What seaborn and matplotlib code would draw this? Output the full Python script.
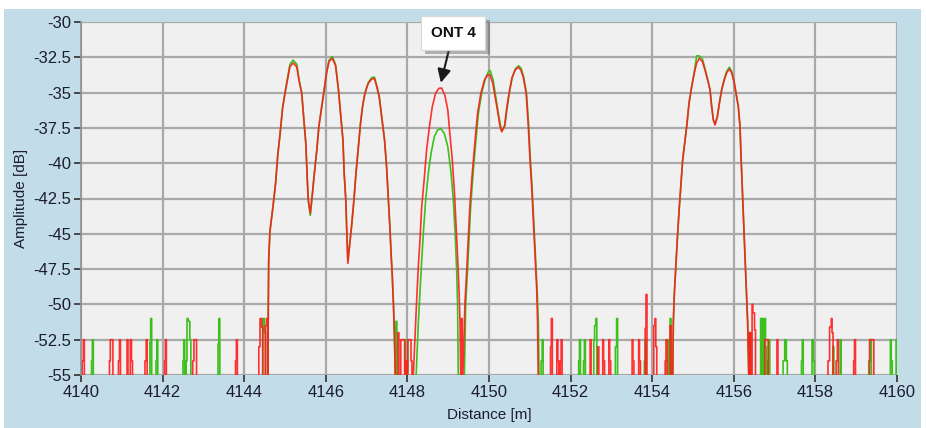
import numpy as np
import pandas as pd
import matplotlib
matplotlib.use("Agg")
import matplotlib.pyplot as plt
from matplotlib import patheffects
from matplotlib.patches import Rectangle
import seaborn as sns

# ---------------- data ----------------
x_ticks = [4140, 4142, 4144, 4146, 4148, 4150, 4152, 4154, 4156, 4158, 4160]
x_tick_labels = ["4140", "4142", "4144", "4146", "4148", "4150", "4152", "4154", "4156", "4158", "4160"]
y_ticks = [-30, -32.5, -35, -37.5, -40, -42.5, -45, -47.5, -50, -52.5, -55]
y_tick_labels = ["-30", "-32.5", "-35", "-37.5", "-40", "-42.5", "-45", "-47.5", "-50", "-52.5", "-55"]
floor_level = -56  # noise floor lies just below the visible range

# group 1 (three peaks 4144.6 - 4147.7)
g1_dist = [4144.58, 4144.59, 4144.60, 4144.63, 4144.71, 4144.77, 4144.82, 4144.88, 4144.94, 4145.00,
           4145.06, 4145.12, 4145.20, 4145.29, 4145.34, 4145.41, 4145.47, 4145.51, 4145.55, 4145.57,
           4145.62, 4145.67, 4145.72, 4145.78, 4145.83, 4145.90, 4145.96, 4146.02, 4146.08, 4146.16,
           4146.24, 4146.31, 4146.37, 4146.42, 4146.45, 4146.49, 4146.51, 4146.54, 4146.58, 4146.63,
           4146.69, 4146.74, 4146.80, 4146.85, 4146.90, 4146.96, 4147.04, 4147.12, 4147.19, 4147.25,
           4147.31, 4147.37, 4147.44, 4147.49, 4147.53, 4147.57, 4147.60, 4147.63, 4147.66, 4147.68,
           4147.71]
g1_red = [-56, -50.4, -46.9, -44.85, -42.96, -41.4, -39.5, -37.9, -36.1, -35.05,
          -34.1, -33.17, -32.9, -33.2, -34.1, -35.05, -37.2, -38.6, -41.4, -42.6,
          -43.55, -42.2, -40.7, -39.06, -37.4, -36.0, -34.8, -33.6, -32.8, -32.57,
          -33.1, -34.8, -36.7, -38.36, -40.7, -42.6, -44.5, -47.1, -45.9, -44.5,
          -42.6, -40.7, -38.83, -37.2, -36.0, -35.05, -34.34, -34.06, -33.98, -34.6,
          -35.3, -36.7, -38.36, -40.25, -42.37, -44.5, -46.4, -48.04, -50.16, -52.05,
          -56]
g1_green = [-56, -50.4, -46.9, -44.85, -42.96, -41.4, -39.5, -37.9, -36.1, -35.0,
            -34.0, -33.0, -32.7, -33.0, -34.0, -35.05, -37.2, -38.6, -41.4, -42.6,
            -43.7, -42.2, -40.7, -39.06, -37.4, -36.0, -34.8, -33.5, -32.7, -32.45,
            -33.0, -34.8, -36.7, -38.36, -40.7, -42.6, -44.5, -46.9, -45.9, -44.5,
            -42.6, -40.7, -38.83, -37.2, -36.0, -35.0, -34.3, -33.95, -33.9, -34.5,
            -35.3, -36.7, -38.36, -40.25, -42.37, -44.5, -46.4, -48.04, -50.16, -52.05,
            -56]

# ONT 4 peak
ont4_red_dist = [4148.13, 4148.186, 4148.227, 4148.268, 4148.309, 4148.35, 4148.41, 4148.47, 4148.54,
                 4148.61, 4148.69, 4148.77, 4148.84, 4148.92, 4148.99, 4149.04, 4149.10, 4149.15,
                 4149.19, 4149.23, 4149.265, 4149.29, 4149.31]
ont4_red = [-56, -52.3, -49.7, -47.3, -45.4, -43.1, -41.2, -39.06, -37.4,
            -36.0, -35.05, -34.7, -34.68, -35.2, -36.23, -37.9, -39.77, -41.9,
            -44.26, -46.6, -48.98, -51.3, -56]
ont4_green_dist = [4148.20, 4148.268, 4148.333, 4148.39, 4148.448, 4148.513, 4148.58, 4148.66, 4148.74,
                   4148.82, 4148.905, 4148.99, 4149.07, 4149.125, 4149.17, 4149.21, 4149.23, 4149.25]
ont4_green = [-56, -51.3, -47.8, -44.97, -42.6, -40.7, -39.3, -38.12, -37.65,
              -37.55, -37.9, -38.83, -40.7, -42.6, -44.97, -47.8, -50.1, -56]

# group 2 (two peaks 4149.4 - 4151.2)
g2_red_dist = [4149.35, 4149.41, 4149.45, 4149.49, 4149.53, 4149.59, 4149.66, 4149.72, 4149.80, 4149.89,
               4149.97, 4150.02, 4150.09, 4150.15, 4150.21, 4150.27, 4150.31, 4150.38, 4150.43, 4150.49,
               4150.56, 4150.64, 4150.72, 4150.78, 4150.84, 4150.91, 4150.96, 4151.00, 4151.05, 4151.09,
               4151.13, 4151.17, 4151.19, 4151.21]
g2_red = [-56, -49.9, -47.8, -45.4, -43.1, -40.7, -38.36, -36.47, -35.05, -34.1,
          -33.75, -33.75, -34.3, -35.3, -36.3, -37.4, -37.77, -37.4, -36.2, -35.05,
          -34.0, -33.4, -33.2, -33.4, -33.9, -35.05, -37.2, -39.5, -41.9, -44.26,
          -46.6, -48.98, -51.3, -56]
g2_green_dist = [4149.39, 4149.43, 4149.47, 4149.51, 4149.55, 4149.61, 4149.68, 4149.74, 4149.82, 4149.91,
                 4149.99, 4150.03, 4150.10, 4150.16, 4150.22, 4150.28, 4150.32, 4150.39, 4150.44, 4150.50,
                 4150.57, 4150.65, 4150.73, 4150.79, 4150.85, 4150.92, 4150.97, 4151.01, 4151.06, 4151.10,
                 4151.14, 4151.18, 4151.21, 4151.23]
g2_green = [-56, -49.9, -47.8, -45.4, -43.1, -40.7, -38.36, -36.47, -35.05, -34.0,
            -33.5, -33.45, -34.1, -35.2, -36.3, -37.3, -37.7, -37.3, -36.2, -35.0,
            -33.9, -33.3, -33.1, -33.3, -33.9, -35.05, -37.2, -39.5, -41.9, -44.26,
            -46.6, -48.98, -51.3, -56]

# group 3 (two peaks 4154.5 - 4156.4)
g3_dist = [4154.50, 4154.518, 4154.543, 4154.584, 4154.624, 4154.665, 4154.706, 4154.747, 4154.804, 4154.853,
           4154.902, 4154.968, 4155.033, 4155.09, 4155.155, 4155.229, 4155.294, 4155.36, 4155.417, 4155.458,
           4155.499, 4155.54, 4155.597, 4155.646, 4155.703, 4155.768, 4155.825, 4155.891, 4155.948, 4156.005,
           4156.054, 4156.111, 4156.152, 4156.177, 4156.209, 4156.242, 4156.275, 4156.307, 4156.34, 4156.373]
g3_red = [-56, -51.3, -49.2, -47.1, -44.97, -43.1, -41.4, -39.77, -38.36, -37.2,
          -35.76, -34.58, -33.6, -32.9, -32.57, -32.8, -33.4, -34.1, -34.8, -36.0,
          -36.94, -37.3, -36.7, -35.76, -34.8, -34.1, -33.6, -33.33, -33.6, -34.2,
          -35.05, -36.0, -37.4, -39.5, -41.9, -44.26, -46.6, -48.98, -51.3, -56]
g3_green = [-56, -51.3, -49.2, -47.1, -44.97, -43.1, -41.4, -39.77, -38.36, -37.2,
            -35.76, -34.58, -33.5, -32.4, -32.4, -32.6, -33.3, -34.1, -34.8, -36.0,
            -36.94, -37.2, -36.7, -35.76, -34.8, -34.0, -33.5, -33.2, -33.5, -34.2,
            -35.05, -36.0, -37.4, -39.5, -41.9, -44.26, -46.6, -48.98, -51.3, -56]

# noise-floor spikes
red_spike_x = [4140.04, 4140.07, 4140.71, 4140.73, 4140.77, 4140.93, 4140.955, 4141.14, 4141.22, 4141.25,
               4141.58, 4141.61, 4142.06, 4142.08, 4142.75, 4142.78, 4142.82, 4143.80, 4143.82,
               4144.37, 4144.40, 4144.44, 4144.53, 4144.56,
               4147.78, 4147.85, 4147.88, 4147.92, 4147.97, 4148.02, 4148.06, 4148.10,
               4149.33,
               4151.52, 4151.54, 4151.675, 4151.70, 4151.76, 4151.78, 4152.49, 4152.68, 4152.80, 4152.82,
               4152.95, 4152.97, 4153.52, 4153.54, 4153.68, 4153.70, 4153.84, 4153.86, 4154.05, 4154.08,
               4154.10, 4154.33, 4154.35, 4154.45,
               4156.40, 4156.46, 4156.48, 4156.52, 4156.77, 4156.80, 4156.83, 4157.07, 4158.32, 4158.36,
               4158.40, 4158.42, 4158.52, 4158.55, 4158.95, 4158.97, 4159.34, 4159.38, 4159.42]
red_spike_y = [-54, -52.5, -54, -52.5, -52.5, -54, -52.5, -52.5, -52.5, -54,
               -54, -52.5, -54, -52.5, -54, -52.5, -52.5, -54, -52.5,
               -53, -51, -51.6, -51.5, -51,
               -52, -52.5, -52.5, -52.5, -54, -52.5, -52.5, -54,
               -51,
               -53, -51, -52.5, -54, -54, -52.5, -52.5, -53, -52.5, -54,
               -52.5, -54, -52.5, -54, -52.5, -54, -51.7, -49.3, -51.5, -51,
               -53, -54, -52.5, -51.5,
               -52, -50, -50.6, -51.8, -52.5, -52.5, -52.5, -52.5, -54, -51.6,
               -51, -52, -54, -52.5, -54, -52.5, -52.5, -52.5, -52.5]
green_spike_x = [4140.27, 4140.29, 4141.70, 4141.72, 4141.85, 4141.87, 4142.51, 4142.53, 4142.59, 4142.61,
                 4142.64, 4142.68, 4143.37, 4143.39, 4144.47, 4144.51,
                 4147.73, 4147.96, 4148.00,
                 4151.29, 4151.315, 4152.21, 4152.23, 4152.33, 4152.35, 4152.58, 4152.60, 4152.63,
                 4153.11, 4153.14, 4153.82, 4153.84, 4154.39, 4154.45,
                 4156.40, 4156.67, 4156.72, 4156.77, 4156.79, 4156.85, 4156.87, 4157.22, 4157.26, 4157.30,
                 4157.67, 4157.69, 4157.93, 4157.96, 4158.44, 4158.62, 4159.32, 4159.36, 4159.85, 4159.87,
                 4159.99]
green_spike_y = [-54, -52.5, -52.7, -51, -54, -52.5, -54, -52.5, -54, -51,
                 -51.2, -52.5, -52.8, -51, -51, -52,
                 -51.2, -52.5, -52.5,
                 -54, -52.5, -54, -52.5, -54, -52.5, -52.5, -51.5, -51,
                 -53, -51, -54, -52.5, -52.5, -51,
                 -52, -51, -51, -51, -53, -54, -52.5, -54, -52.5, -54,
                 -54, -52.5, -52.5, -54, -53, -52.5, -54, -52.5, -52.5, -54,
                 -52.5]

# ---------------- build traces ----------------
HALF_W = 0.012


def build_trace(segments, spike_x, spike_y):
    items = []
    for d, a in segments:
        items.append((d[0], list(zip(d, a))))
    order = np.argsort(spike_x)
    sx = np.asarray(spike_x)[order]
    sy = np.asarray(spike_y)[order]
    clusters = []
    for x, y in zip(sx, sy):
        if clusters and x - clusters[-1][-1][0] <= 0.045:
            clusters[-1].append((x, y))
        else:
            clusters.append([(x, y)])
    for c in clusters:
        pts = [(c[0][0] - HALF_W, floor_level)]
        for i, (x, y) in enumerate(c):
            pts.append((x - HALF_W, y))
            nxt = c[i + 1][0] - HALF_W if i + 1 < len(c) else x + HALF_W
            pts.append((nxt, y))
        pts.append((c[-1][0] + HALF_W, floor_level))
        items.append((c[0][0] - HALF_W, pts))
    items.sort(key=lambda t: t[0])
    xs, ys = [x_ticks[0]], [floor_level]
    for _, pts in items:
        xs += [p[0] for p in pts]
        ys += [p[1] for p in pts]
    xs.append(x_ticks[-1])
    ys.append(floor_level)
    return pd.DataFrame({"Distance": xs, "Amplitude": ys})


red_df = build_trace([(g1_dist, g1_red), (ont4_red_dist, ont4_red), (g2_red_dist, g2_red), (g3_dist, g3_red)],
                     red_spike_x, red_spike_y)
green_df = build_trace([(g1_dist, g1_green), (ont4_green_dist, ont4_green), (g2_green_dist, g2_green),
                        (g3_dist, g3_green)], green_spike_x, green_spike_y)

# ---------------- plot ----------------
sns.set_style("white", {"axes.facecolor": "#f0f0f0"})
plt.rcParams["font.family"] = ["Liberation Sans", "DejaVu Sans"]
plt.rcParams["axes.unicode_minus"] = False

fig = plt.figure(figsize=(9.26, 4.28), dpi=100, facecolor="white")
fig.patches.append(Rectangle((4 / 926, 0), 917 / 926, 419 / 428, transform=fig.transFigure,
                             facecolor="#c2dde8", edgecolor="none", zorder=-10))
ax = fig.add_axes([81 / 926, 53 / 428, 816 / 926, 353 / 428])
ax.set_facecolor("#f0f0f0")

sns.lineplot(data=green_df, x="Distance", y="Amplitude", sort=False, estimator=None,
             color="#3cc01e", linewidth=1.2, ax=ax)
sns.lineplot(data=red_df, x="Distance", y="Amplitude", sort=False, estimator=None,
             color="#ff1c1c", linewidth=1.2, alpha=0.9, ax=ax)

ax.set_xlim(x_ticks[0], x_ticks[-1])
ax.set_ylim(y_ticks[-1], y_ticks[0])
ax.set_xticks(x_ticks)
ax.set_xticklabels(x_tick_labels)
ax.set_yticks(y_ticks)
ax.set_yticklabels(y_tick_labels)
ax.grid(True, color="#a9a9a9", linewidth=1.6, zorder=0)
ax.set_axisbelow(True)
for s in ["top", "right", "bottom"]:
    ax.spines[s].set_visible(False)
ax.spines["left"].set_color("#909090")
ax.spines["left"].set_linewidth(1.2)
ax.tick_params(axis="both", direction="out", length=5, width=1.2, color="#303030",
               labelsize=12, labelcolor="#1c1c30", pad=2, left=True, bottom=True)
ax.set_xlabel("Distance [m]", fontsize=11, color="#1c1c30", labelpad=6)
ax.set_ylabel("Amplitude [dB]", fontsize=11, color="#1c1c30", labelpad=4)

ann = ax.annotate("ONT 4", xy=(4148.82, -34.3), xytext=(4149.12, -30.78), textcoords="data",
                  ha="center", va="center", fontsize=11, fontweight="bold", color="#101010",
                  bbox=dict(boxstyle="square,pad=0.65", fc="white", ec="#d8d8d8", lw=0.8),
                  arrowprops=dict(arrowstyle="-|>", color="#1a1a1a", lw=1.5, mutation_scale=20,
                                  shrinkA=0, shrinkB=0),
                  annotation_clip=False, zorder=10)
ann.get_bbox_patch().set_path_effects([patheffects.withSimplePatchShadow(offset=(3, -3),
                                                                         shadow_rgbFace="#606060",
                                                                         alpha=0.45)])

fig.savefig("out.png", dpi=100, facecolor=fig.get_facecolor())
